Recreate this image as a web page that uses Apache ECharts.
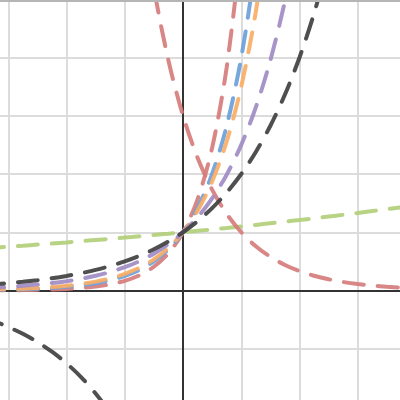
<!DOCTYPE html>
<html>
<head>
<meta charset="utf-8">
<script src="https://cdn.jsdelivr.net/npm/echarts@6/dist/echarts.min.js"></script>
<style>
html,body{margin:0;padding:0;background:#fff;width:400px;height:400px;overflow:hidden;position:relative;}
#c{position:absolute;left:-50px;top:-59px;width:466px;height:466px;}
</style>
</head>
<body>
<div id="c"></div>
<script>
// x samples shared by the increasing curves
const xs = [-4,-3.75,-3.5,-3.25,-3,-2.75,-2.5,-2.25,-2,-1.75,-1.5,-1.25,-1,-0.75,-0.5,-0.25,0,0.25,0.5,0.75,1,1.25,1.5,1.75,2,2.25,2.5,2.75,3,3.25,3.5,3.75,4];
const greenY = [0.683,0.700,0.716,0.734,0.751,0.769,0.788,0.807,0.826,0.846,0.867,0.888,0.909,0.931,0.953,0.976,1,1.024,1.049,1.074,1.1,1.126,1.154,1.182,1.21,1.239,1.269,1.3,1.331,1.363,1.396,1.43,1.464];
const blackY = [0.0625,0.0743,0.0884,0.1051,0.125,0.1487,0.1768,0.2102,0.25,0.2973,0.3536,0.4204,0.5,0.5946,0.7071,0.8409,1,1.1892,1.4142,1.6818,2,2.3784,2.8284,3.3636,4,4.7568,5.6569,6.7272,8];
const purpleY = [0.0256,0.0322,0.0405,0.0509,0.064,0.0805,0.1012,0.1272,0.16,0.2012,0.253,0.3181,0.4,0.503,0.6325,0.7953,1,1.2574,1.5811,1.9882,2.5,3.1436,3.9528,4.9704,6.25,7.86];
const orangeY = [0.0067,0.0091,0.0125,0.0171,0.0233,0.0319,0.0436,0.0597,0.0816,0.1116,0.1527,0.2089,0.2857,0.3908,0.5345,0.7311,1,1.3678,1.8708,2.5589,3.5,4.787,6.548,8.96];
const blueY = [0.0039,0.0055,0.0078,0.011,0.0156,0.0221,0.0313,0.0442,0.0625,0.0884,0.125,0.1768,0.25,0.3536,0.5,0.7071,1,1.4142,2,2.8284,4,5.6569,8];
const redIncY = [0.0008,0.0012,0.0019,0.003,0.0046,0.0072,0.0113,0.0177,0.0278,0.0435,0.068,0.1065,0.1667,0.2609,0.4082,0.6389,1,1.5651,2.4495,3.8337,6,9.39];
// decreasing red curve
const decX = [-0.75,-0.5,-0.25,0,0.25,0.5,0.75,1,1.25,1.5,1.75,2,2.25,2.5,2.75,3,3.25,3.5,3.75,4];
const redDecY = [6.84,5.196,3.948,3,2.2795,1.7321,1.3161,1,0.7598,0.5774,0.4387,0.3333,0.2533,0.1925,0.1462,0.1111,0.0844,0.0642,0.0487,0.037];
// lower-left dark curve
const negX = [-4,-3.75,-3.5,-3.25,-3,-2.75,-2.5,-2.25,-2,-1.75,-1.5,-1.25,-1];
const negY = [-0.3125,-0.3716,-0.4419,-0.5256,-0.625,-0.7433,-0.8839,-1.0511,-1.25,-1.4865,-1.7678,-2.1022,-2.5];

function pairs(x, y){ return y.map((v,i)=>[x[i], v]); }

const chart = echarts.init(document.getElementById('c'), null, {renderer:'canvas'});
function mk(data, color, z){
  return {type:'line', data:data, showSymbol:false, smooth:0.3, z:z, animation:false,
    lineStyle:{color:color, width:4, type:[20,14], cap:'round', opacity:0.92}};
}
chart.setOption({
  animation:false,
  backgroundColor:'#fff',
  grid:{left:0, top:0, right:0, bottom:0, containLabel:false},
  xAxis:{type:'value', min:-4, max:4, interval:1,
    axisLine:{show:true, onZero:true, lineStyle:{color:'#333', width:2}},
    axisTick:{show:false}, axisLabel:{show:false},
    splitLine:{show:true, lineStyle:{color:'#dcdcdc', width:2}}},
  yAxis:{type:'value', min:-2, max:6, interval:1,
    axisLine:{show:true, onZero:true, lineStyle:{color:'#333', width:2}},
    axisTick:{show:false}, axisLabel:{show:false},
    splitLine:{show:true, lineStyle:{color:'#dcdcdc', width:2}}},
  graphic:[{type:'line', shape:{x1:0,y1:60,x2:466,y2:60}, style:{stroke:'#b5b5b5', lineWidth:2}, z:100}],
  series:[
    mk(pairs(decX, redDecY), '#d67c7c', 3),
    mk(pairs(xs, redIncY), '#d67c7c', 3),
    mk(pairs(xs, blueY), '#6b9fd9', 4),
    mk(pairs(xs, orangeY), '#f8ae66', 5),
    mk(pairs(xs, purpleY), '#a08bc4', 6),
    mk(pairs(xs, greenY), '#b3cf7a', 2),
    mk(pairs(xs, blackY), '#404040', 7),
    mk(pairs(negX, negY), '#404040', 7)
  ]
});
</script>
</body>
</html>
